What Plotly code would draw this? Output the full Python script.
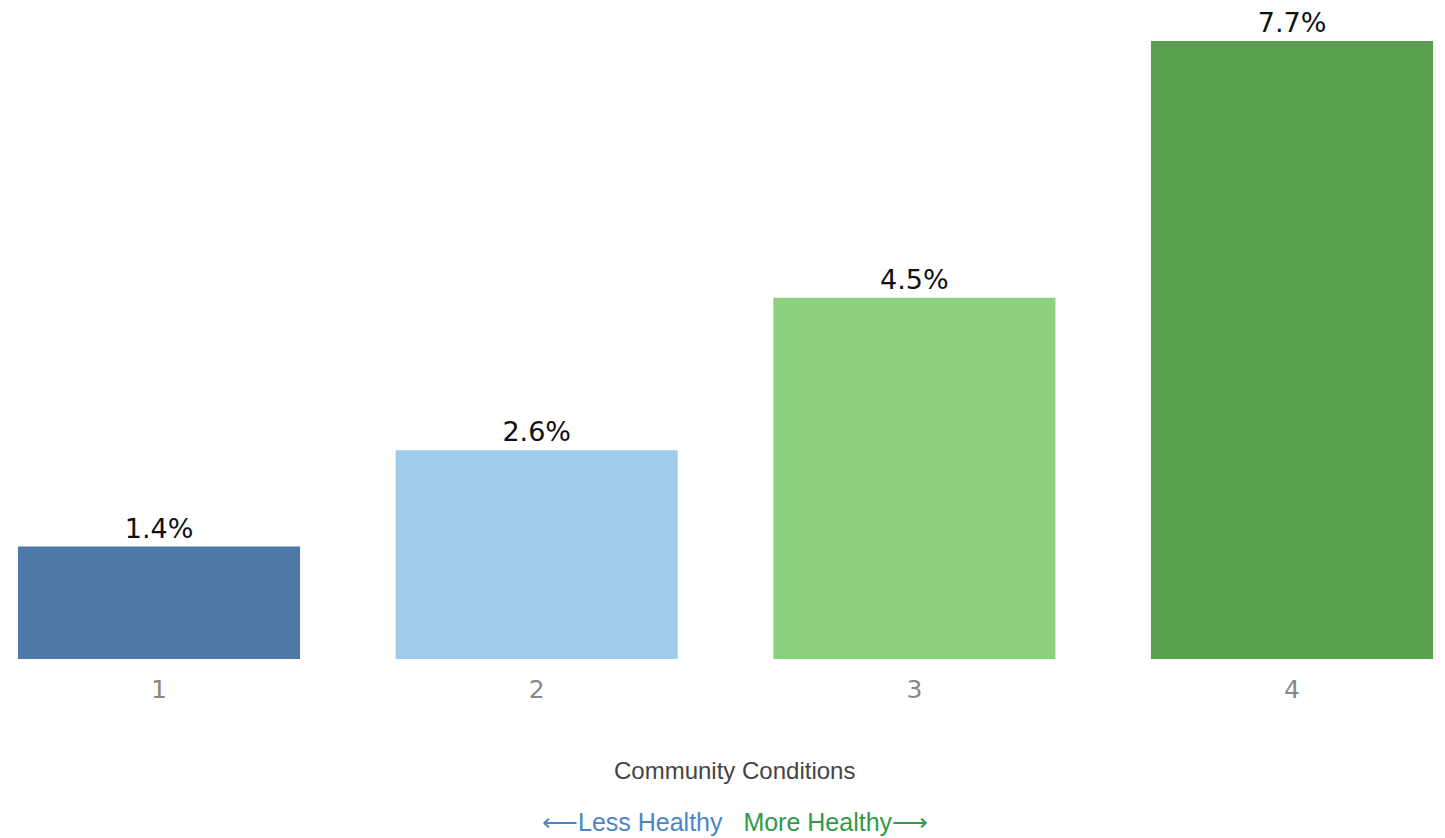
import plotly.graph_objects as go

categories = ["1", "2", "3", "4"]
values = [1.4, 2.6, 4.5, 7.7]
labels = ["1.4%", "2.6%", "4.5%", "7.7%"]
colors = ["#4e79a7", "#a0cbe8", "#8cd17d", "#59a14f"]
axis_title = "Community Conditions"

fig = go.Figure()
fig.add_trace(go.Bar(
    x=categories, y=values, text=labels, textposition="outside",
    marker=dict(color=colors, line=dict(width=0)),
    textfont=dict(family="DejaVu Sans", size=27, color="#111111"),
    cliponaxis=False, width=0.747,
))

fig.update_layout(
    width=1445, height=838,
    margin=dict(l=0, r=0, t=0, b=179),
    plot_bgcolor="white", paper_bgcolor="white",
    showlegend=False,
    xaxis=dict(type="category", range=[-0.421, 3.405], showgrid=False, showline=False,
               ticks="", tickfont=dict(family="DejaVu Sans", size=25, color="#888888"),
               ticklabelstandoff=13),
    yaxis=dict(range=[0, 8.21], visible=False),
    annotations=[
        dict(text=axis_title, x=0.5, xref="paper", xshift=12,
             y=-(770 - 659) / 659, yref="paper", yanchor="middle",
             showarrow=False, font=dict(family="Liberation Sans", size=24, color="#444444")),
        dict(text="<span style='color:#4a86c8'>⟵Less Healthy</span>   <span style='color:#2e9a4a'>More Healthy⟶</span>",
             x=0.5, xref="paper", xshift=12, y=-(822 - 659) / 659, yref="paper", yanchor="middle",
             showarrow=False, font=dict(family="Liberation Sans", size=25)),
    ],
)
fig.write_html("out.html", config={"displayModeBar": False},
               post_script="document.body.style.margin='0';document.body.style.overflow='hidden';")
